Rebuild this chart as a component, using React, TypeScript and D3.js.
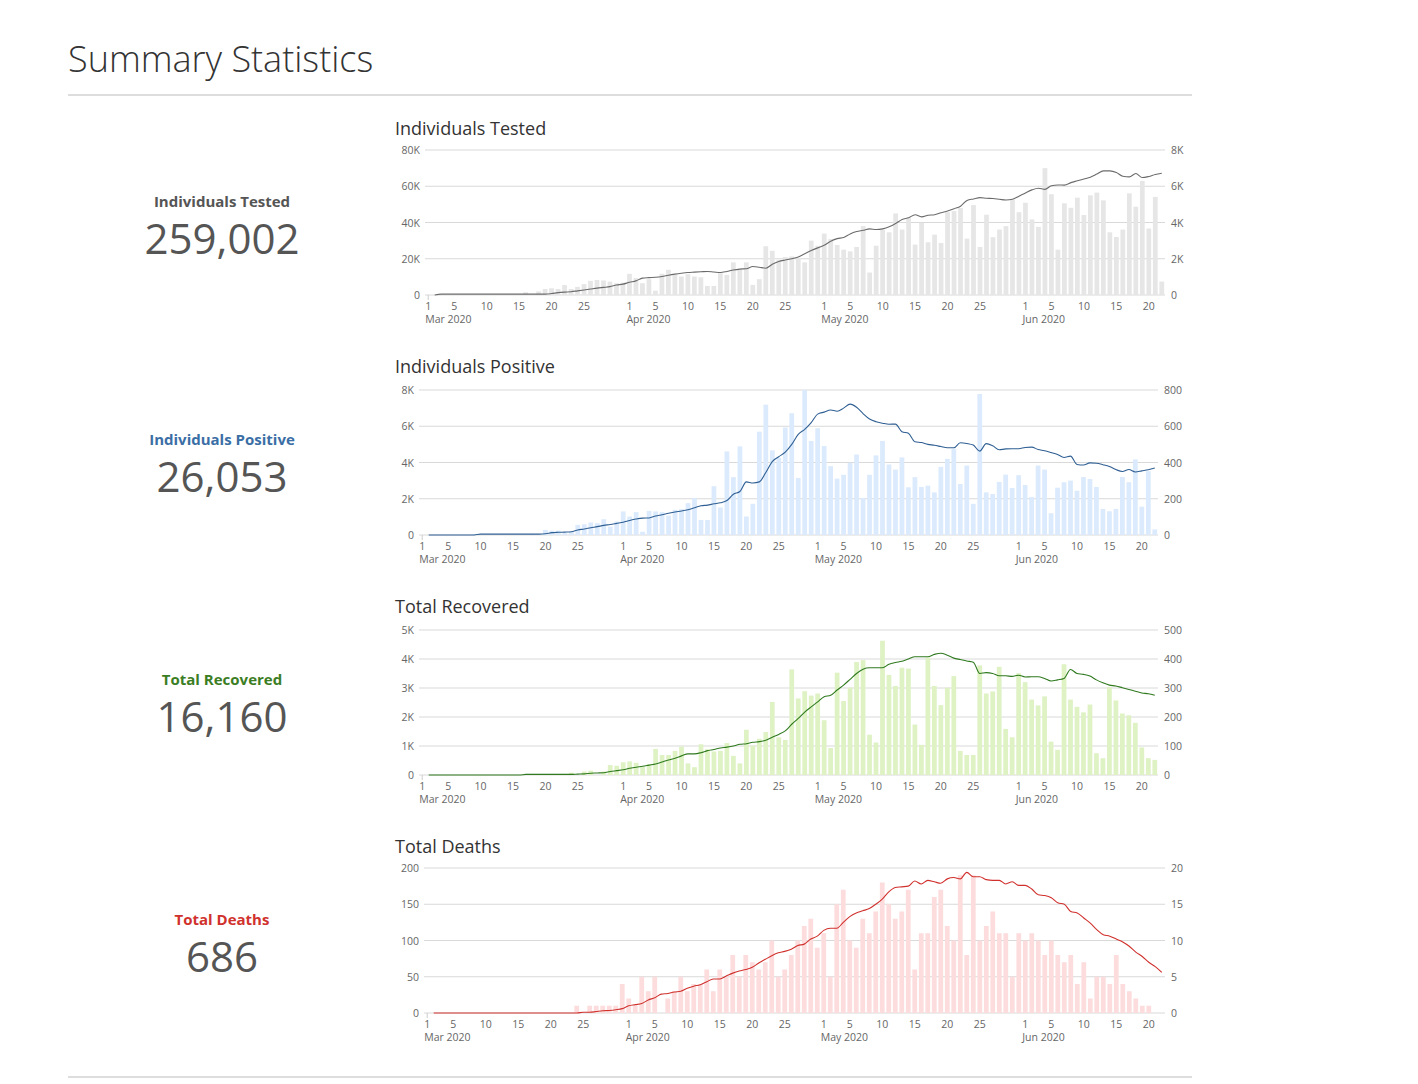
import React from 'react';
import * as d3 from 'd3';

// ---------- DATA ----------
const dates: Date[] = d3.timeDay.range(new Date(2020, 2, 1), new Date(2020, 5, 23)); // Mar 1 – Jun 22
const tickDays = [1, 5, 10, 15, 20, 25];

const statLabels = ['Individuals Tested', 'Individuals Positive', 'Total Recovered', 'Total Deaths'];
const statValues = ['259,002', '26,053', '16,160', '686'];

// daily bars (right axis units)
const testedDaily = [
  0,0,0,0,0,0,0,0,0,0,0,0,0,0,0,150,0,200,330,370,
  330,550,330,450,600,780,830,800,740,650,680,1170,930,650,870,240,1170,1390,1110,1020,
  1150,1020,980,500,500,1200,1110,1800,1390,1800,560,870,2690,2440,1940,2090,2130,2040,1800,3000,
  2720,3390,3090,2760,2500,2410,2650,3800,1240,2720,3610,3460,4500,3610,4240,2780,3980,2910,3330,2870,
  4570,4630,4810,3110,4960,2650,4430,3190,3610,3800,5280,4570,5090,4170,3760,7000,5560,2500,5060,4810,
  5370,4410,5500,5650,5220,3460,3200,3610,5610,4870,6300,3670,5410,740,
];
// rolling line (left axis units)
const testedLine = [
  null,0,500,500,500,500,500,500,500,500,500,500,500,500,500,500,500,500,500,800,
  1300,1600,1800,2300,2800,3300,3800,4200,4600,5500,6000,7000,7800,9300,9600,9800,10200,10900,11500,12000,
  12400,12600,12800,13000,12700,12400,13000,13800,14300,14500,15700,15300,14800,17000,18500,19300,20000,21000,22800,24500,
  26000,27400,29600,31100,31700,33700,35000,35700,36500,36100,36500,37600,39400,41700,42600,44300,43100,44000,44300,45400,
  46300,47600,49000,52200,53000,53700,53400,53200,52800,52400,52800,54500,56300,58000,58900,58300,60300,60700,60600,62000,
  63000,64000,65000,66700,68500,68500,67600,65500,65200,67000,64800,65400,66500,67200,
];

const positiveDaily = [
  0,0,0,0,0,0,0,0,5,0,0,0,0,0,0,0,0,5,5,28,
  24,24,13,18,56,59,69,65,87,46,74,130,102,126,18,133,130,126,107,139,
  143,176,204,83,83,269,152,461,319,489,102,172,570,719,467,426,593,672,315,800,
  519,589,491,380,311,332,398,444,204,332,439,519,389,361,428,263,319,265,272,235,
  376,420,476,281,383,172,778,235,226,293,333,259,330,276,209,383,361,120,261,291,
  300,244,320,309,265,144,131,144,320,291,417,156,352,31,
];
const positiveLine = [
  null,0,0,0,0,0,0,0,0,50,50,50,50,50,50,50,50,50,50,70,
  130,150,160,180,280,330,400,460,530,580,640,700,800,880,930,940,1050,1120,1200,1270,
  1320,1390,1500,1610,1650,1720,1780,1900,2250,2400,2930,2870,2930,3450,4050,4320,4570,5000,5550,5830,
  6200,6670,6780,6900,6830,7000,7220,7050,6700,6400,6250,6170,6110,6120,5700,5610,5150,5100,5000,4950,
  4880,4810,4810,5090,5050,4960,4630,5040,4920,4700,4750,4760,4760,4830,4850,4720,4650,4550,4440,4280,
  4350,3890,3860,3980,3960,3880,3780,3610,3500,3610,3480,3540,3600,3700,
];

const recoveredDaily = [
  0,0,0,0,0,0,0,0,0,0,0,0,0,0,0,0,0,0,0,0,
  0,0,0,8,0,12,15,0,12,34,32,44,47,42,29,38,90,69,69,83,
  98,40,27,106,89,81,83,110,66,40,156,101,125,148,252,130,121,364,264,289,
  274,281,189,93,353,255,301,390,396,139,112,463,345,307,370,367,174,104,405,307,
  241,301,341,83,69,69,378,281,288,373,159,130,351,320,260,240,271,115,87,382,
  260,235,216,243,75,58,303,257,212,206,180,95,58,52,
];
const recoveredLine = [
  null,0,0,0,0,0,0,0,0,0,0,0,0,0,0,0,20,20,20,20,
  20,20,20,20,30,40,60,70,80,120,150,180,230,270,300,340,380,450,520,580,
  660,730,730,770,840,880,930,960,1000,1060,1080,1130,1150,1200,1300,1400,1520,1750,1950,2170,
  2350,2520,2700,2750,2930,3100,3300,3500,3650,3700,3700,3700,3820,3880,3920,4000,4080,4080,4080,4160,
  4200,4130,4030,3980,3930,3890,3500,3530,3500,3420,3420,3400,3440,3380,3390,3390,3330,3240,3280,3330,
  3640,3500,3470,3410,3280,3180,3100,3070,3010,2950,2890,2830,2800,2750,
];

const deathsDaily = [
  0,0,0,0,0,0,0,0,0,0,0,0,0,0,0,0,0,0,0,0,
  0,0,0,1,0,1,1,1,1,1,4,2,1,5,3,5,0,2,3,5,
  3,4,4,6,3,6,5,8,5,8,7,6,7,10,5,6,8,10,12,13,
  9,11,5,15,17,10,9,13,11,14,18,15,13,14,17,6,11,11,16,17,
  12,10,19,8,19,10,12,14,11,11,5,11,10,11,10,8,10,8,7,8,
  4,7,2,5,5,4,8,4,3,2,1,1,0,0,
];
const deathsLine = [
  null,0,0,0,0,0,0,0,0,0,0,0,0,0,0,0,0,0,0,0,
  0,0,0,0,1,1,2,3,3.5,4.5,6,10,11.5,13,18,21,26,27,29,30,
  34,37,39,43,47,47,51,55,58,60,63,69,74,79,83,85,88,93,95,102,
  106,114,117,117,125,133,138,141,144,150,157,167,173,174,175,182,178,183,181,179,
  185,187,185,194,188,188,184,183,183,178,181,176,176,171,163,162,159,152,150,140,
  138,131,124,115,108,106,102,98,92,84,78,70,64,56,
];

const testedLeftTicks = [0, 20000, 40000, 60000, 80000];
const testedRightTicks = [0, 2000, 4000, 6000, 8000];
const positiveLeftTicks = [0, 2000, 4000, 6000, 8000];
const positiveRightTicks = [0, 200, 400, 600, 800];
const recoveredLeftTicks = [0, 1000, 2000, 3000, 4000, 5000];
const recoveredRightTicks = [0, 100, 200, 300, 400, 500];
const deathsLeftTicks = [0, 50, 100, 150, 200];
const deathsRightTicks = [0, 5, 10, 15, 20];

// ---------- LAYOUT / STYLE ----------
const FONT = "'Open Sans', 'Noto Sans', sans-serif";
const panels = [
  { title: 'Individuals Tested', bars: testedDaily, line: testedLine, lt: testedLeftTicks, rt: testedRightTicks,
    top: 150, titleY: 135, statY: 207, left: 425, right: 1165, barColor: '#e6e6e6', lineColor: '#6b6b6b', statColor: '#555555' },
  { title: 'Individuals Positive', bars: positiveDaily, line: positiveLine, lt: positiveLeftTicks, rt: positiveRightTicks,
    top: 390, titleY: 373, statY: 445, left: 419, right: 1158, barColor: '#dbeafc', lineColor: '#2f5f93', statColor: '#3a6ea5' },
  { title: 'Total Recovered', bars: recoveredDaily, line: recoveredLine, lt: recoveredLeftTicks, rt: recoveredRightTicks,
    top: 630, titleY: 613, statY: 685, left: 419, right: 1158, barColor: '#def2c4', lineColor: '#2f7a1f', statColor: '#3b7d23' },
  { title: 'Total Deaths', bars: deathsDaily, line: deathsLine, lt: deathsLeftTicks, rt: deathsRightTicks,
    top: 868, titleY: 853, statY: 925, left: 424, right: 1165, barColor: '#fcdcdc', lineColor: '#d0312d', statColor: '#d0312d' },
];
const PLOT_H = 145;

const fmt = (v: number) => (v >= 1000 ? `${v / 1000}K` : `${v}`);
const monthFmt = d3.timeFormat('%b %Y');

function Panel({ p, idx }: { p: typeof panels[number]; idx: number }) {
  const bottom = p.top + PLOT_H;
  const x = d3.scaleBand<Date>().domain(dates).range([p.left, p.right]).paddingInner(0.27).paddingOuter(0.13);
  const cx = (d: Date) => (x(d) as number) + x.bandwidth() / 2;
  const yL = d3.scaleLinear().domain([0, p.lt[p.lt.length - 1]]).range([bottom, p.top]);
  const yR = d3.scaleLinear().domain([0, p.rt[p.rt.length - 1]]).range([bottom, p.top]);
  const line = d3.line<number | null>()
    .defined((v) => v !== null)
    .x((_, i) => cx(dates[i]))
    .y((v) => yL(v as number))
    .curve(d3.curveMonotoneX);
  const ticks = dates.filter((d) => tickDays.includes(d.getDate()));
  return (
    <g>
      <text x={222} y={p.statY} textAnchor="middle" fontFamily={FONT} fontWeight={700} fontSize={15} fill={p.statColor}>
        {statLabels[idx]}
      </text>
      <text x={222} y={p.statY + 47} textAnchor="middle" fontFamily={FONT} fontSize={42} fill="#555">
        {statValues[idx]}
      </text>
      <text x={395} y={p.titleY} fontFamily={FONT} fontSize={18} fill="#333">{p.title}</text>
      {p.lt.map((t) => (
        <g key={t}>
          <line x1={p.left} x2={p.right} y1={yL(t)} y2={yL(t)} stroke="#d9d9d9" strokeWidth={1} />
          <text x={p.left - 5} y={yL(t) + 4} textAnchor="end" fontFamily={FONT} fontSize={10.5} fill="#666">{fmt(t)}</text>
        </g>
      ))}
      {p.rt.map((t) => (
        <text key={t} x={p.right + 6} y={yR(t) + 4} fontFamily={FONT} fontSize={10.5} fill="#666">{fmt(t)}</text>
      ))}
      {p.bars.map((v, i) => (
        <rect key={i} x={x(dates[i])} y={yR(v)} width={x.bandwidth()} height={bottom - yR(v)} fill={p.barColor} />
      ))}
      <path d={line(p.line) || ''} fill="none" stroke={p.lineColor} strokeWidth={1.1} />
      <line x1={cx(dates[0])} x2={cx(dates[0])} y1={bottom} y2={bottom + 5} stroke="#ccc" />
      {ticks.map((d) => (
        <g key={d.getTime()}>
          <text x={cx(d)} y={bottom + 15} textAnchor="middle" fontFamily={FONT} fontSize={10.5} fill="#666">{d.getDate()}</text>
          {d.getDate() === 1 && (
            <text x={cx(d) - 3} y={bottom + 28} fontFamily={FONT} fontSize={10.5} fill="#666">{monthFmt(d)}</text>
          )}
        </g>
      ))}
    </g>
  );
}

export default function App() {
  return (
    <div style={{ position: 'absolute', left: 0, top: 0 }}>
      <svg width={1418} height={1084} style={{ display: 'block', background: '#fff' }}>
        <text x={68} y={72} fontFamily={FONT} fontWeight={300} fontSize={36} fill="#333">Summary Statistics</text>
        <line x1={68} x2={1192} y1={95} y2={95} stroke="#ddd" strokeWidth={2} />
        {panels.map((p, i) => <Panel key={i} p={p} idx={i} />)}
        <line x1={68} x2={1192} y1={1077} y2={1077} stroke="#ddd" strokeWidth={2} />
      </svg>
    </div>
  );
}
